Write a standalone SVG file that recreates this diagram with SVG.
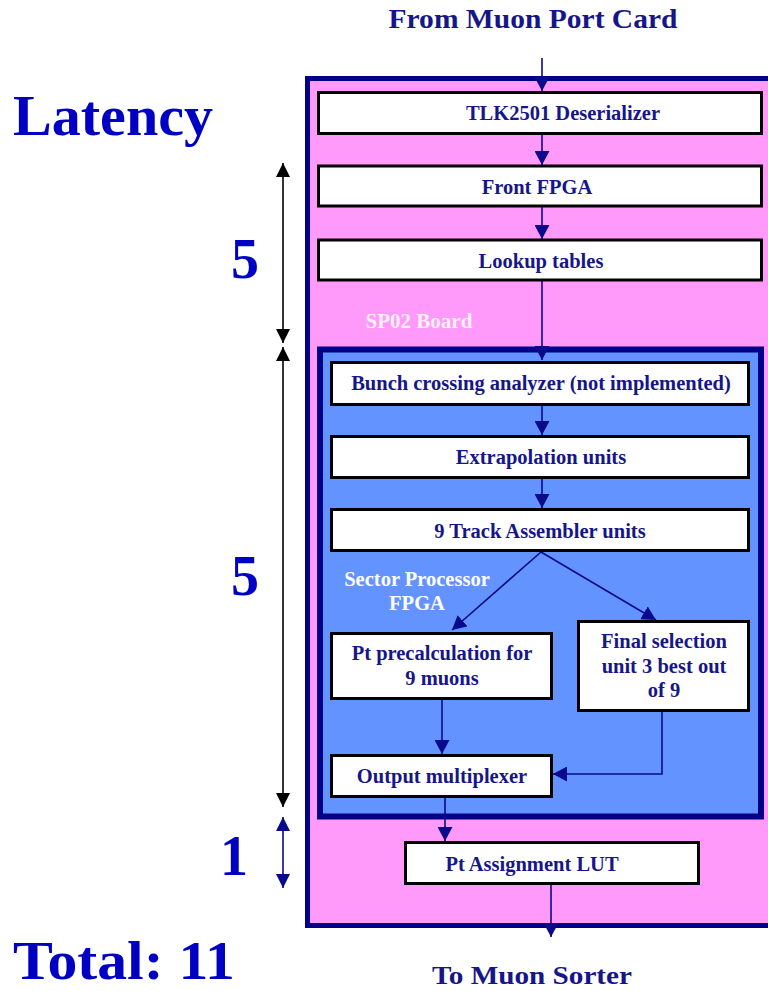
<svg xmlns="http://www.w3.org/2000/svg" width="768" height="991" viewBox="0 0 768 991">
<defs>
<style>
.t{font-family:"Liberation Serif","Times New Roman",serif;font-weight:bold;}
.bt{font-size:20.5px;fill:#16168a;text-anchor:middle;}
.big{fill:#0000c4;}
.box{fill:#ffffff;stroke:#000000;stroke-width:3;}
.ln{fill:none;stroke:#0a0a8c;stroke-width:1.6;}
.lat{fill:none;stroke:#000000;stroke-width:1.6;}
.latn{fill:none;stroke:#0a0a8c;stroke-width:1.6;}
</style>
<marker id="ah" markerUnits="userSpaceOnUse" markerWidth="14" markerHeight="15" viewBox="0 0 14 15" refX="14" refY="7.5" orient="auto">
<path d="M0,0 L14,7.5 L0,15 Z" fill="#0a0a8c"/>
</marker>
<marker id="bk" markerUnits="userSpaceOnUse" markerWidth="14" markerHeight="14" viewBox="0 0 14 14" refX="14" refY="7" orient="auto-start-reverse">
<path d="M0,0 L14,7 L0,14 Z" fill="#000000"/>
</marker>
<marker id="nv" markerUnits="userSpaceOnUse" markerWidth="14" markerHeight="14" viewBox="0 0 14 14" refX="14" refY="7" orient="auto-start-reverse">
<path d="M0,0 L14,7 L0,14 Z" fill="#0a0a8c"/>
</marker>
</defs>
<rect width="768" height="991" fill="#ffffff"/>

<g id="titles">
<text class="t" x="533" y="28" font-size="27" text-anchor="middle" textLength="289" lengthAdjust="spacingAndGlyphs" fill="#16168a">From Muon Port Card</text>
<text class="t" x="532" y="984" font-size="26" text-anchor="middle" textLength="200" lengthAdjust="spacingAndGlyphs" fill="#16168a">To Muon Sorter</text>
</g>

<g id="latency">
<text class="t big" x="13" y="135" font-size="57" textLength="200" lengthAdjust="spacingAndGlyphs">Latency</text>
<text class="t big" x="245" y="278" font-size="56" text-anchor="middle">5</text>
<text class="t big" x="245" y="595" font-size="56" text-anchor="middle">5</text>
<text class="t big" x="234" y="875" font-size="56" text-anchor="middle">1</text>
<text class="t big" x="13" y="979" font-size="54" textLength="222" lengthAdjust="spacingAndGlyphs">Total: 11</text>
<line class="lat" x1="283" y1="163" x2="283" y2="343" marker-start="url(#bk)" marker-end="url(#bk)"/>
<line class="lat" x1="283" y1="347" x2="283" y2="807" marker-start="url(#bk)" marker-end="url(#bk)"/>
<line class="latn" x1="283" y1="817" x2="283" y2="888" marker-start="url(#nv)" marker-end="url(#nv)"/>
</g>

<g id="sp02-board">
<rect x="307.5" y="78.5" width="480" height="847" fill="#ff99fa" stroke="#000088" stroke-width="5"/>
<text class="t" x="419" y="328" font-size="21" text-anchor="middle" fill="#fff0ff">SP02 Board</text>
</g>

<g id="sector-processor">
<rect x="320" y="349.5" width="441" height="467" fill="#6393ff" stroke="#000088" stroke-width="6"/>
<text class="t" x="417" y="586" font-size="20.5" text-anchor="middle" fill="#ffffff">Sector Processor</text>
<text class="t" x="417" y="610" font-size="20.5" text-anchor="middle" fill="#ffffff">FPGA</text>
</g>

<g id="tlk">
<rect class="box" x="318.5" y="92.5" width="443" height="41"/>
<text class="t bt" x="563" y="120">TLK2501 Deserializer</text>
</g>
<g id="front-fpga">
<rect class="box" x="318.5" y="166" width="443" height="40"/>
<text class="t bt" x="537" y="194">Front FPGA</text>
</g>
<g id="lookup">
<rect class="box" x="318.5" y="240" width="443" height="40"/>
<text class="t bt" x="541" y="268">Lookup tables</text>
</g>
<g id="bunch">
<rect class="box" x="331.5" y="362.5" width="417" height="42"/>
<text class="t bt" x="541" y="390">Bunch crossing analyzer (not implemented)</text>
</g>
<g id="extrap">
<rect class="box" x="331.5" y="436.5" width="417" height="41"/>
<text class="t bt" x="541" y="464">Extrapolation units</text>
</g>
<g id="track">
<rect class="box" x="331.5" y="509.5" width="417" height="41"/>
<text class="t bt" x="540" y="538">9 Track Assembler units</text>
</g>
<g id="pt-precalc">
<rect class="box" x="331.5" y="633.5" width="220" height="65"/>
<text class="t bt" x="442" y="660">Pt precalculation for</text>
<text class="t bt" x="442" y="685">9 muons</text>
</g>
<g id="final-sel">
<rect class="box" x="578.5" y="621.5" width="170" height="89"/>
<text class="t bt" x="664" y="648">Final selection</text>
<text class="t bt" x="664" y="673">unit 3 best out</text>
<text class="t bt" x="664" y="697">of 9</text>
</g>
<g id="output-mux">
<rect class="box" x="331.5" y="755.5" width="220" height="41"/>
<text class="t bt" x="442" y="783">Output multiplexer</text>
</g>
<g id="pt-assign">
<rect class="box" x="405.5" y="842.5" width="293" height="41"/>
<text class="t bt" x="532" y="871">Pt Assignment LUT</text>
</g>

<g id="connectors">
<line class="ln" x1="542" y1="58" x2="542" y2="91" marker-end="url(#ah)"/>
<line class="ln" x1="542" y1="135" x2="542" y2="165" marker-end="url(#ah)"/>
<line class="ln" x1="542" y1="207" x2="542" y2="239" marker-end="url(#ah)"/>
<line class="ln" x1="542" y1="281" x2="542" y2="360" marker-end="url(#ah)"/>
<line class="ln" x1="542" y1="406" x2="542" y2="435" marker-end="url(#ah)"/>
<line class="ln" x1="542" y1="479" x2="542" y2="508" marker-end="url(#ah)"/>
<line class="ln" x1="541" y1="552" x2="452" y2="630" marker-end="url(#ah)"/>
<line class="ln" x1="541" y1="552" x2="656" y2="620" marker-end="url(#ah)"/>
<line class="ln" x1="442" y1="700" x2="442" y2="754" marker-end="url(#ah)"/>
<polyline class="ln" points="662,712 662,774 553,774" marker-end="url(#ah)"/>
<line class="ln" x1="445" y1="798" x2="445" y2="841" marker-end="url(#ah)"/>
<line class="ln" x1="551" y1="885" x2="551" y2="937" marker-end="url(#ah)"/>
</g>
</svg>
